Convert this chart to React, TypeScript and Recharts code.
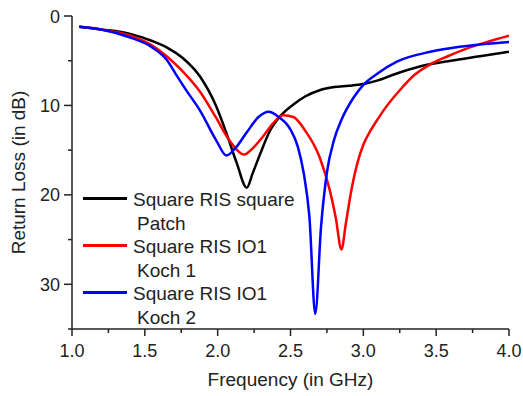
import { Legend, Line, LineChart, XAxis, YAxis } from "recharts";

// Return loss (dB, drawn downward) vs frequency (GHz)
const patchFreq = [1.05, 1.2, 1.4, 1.55, 1.65, 1.76, 1.88, 1.99, 2.06, 2.13, 2.2, 2.24, 2.29, 2.36, 2.43, 2.52, 2.6, 2.7, 2.8, 2.9, 3.0, 3.1, 3.2, 3.4, 3.6, 3.8, 4.0];
const patchLoss = [1.2, 1.5, 2.0, 2.8, 3.5, 4.7, 6.8, 10.1, 13.1, 16.4, 19.2, 17.6, 15.5, 12.8, 11.2, 9.9, 9.0, 8.3, 7.95, 7.8, 7.6, 7.2, 6.6, 5.6, 5.0, 4.5, 4.0];

const koch1Freq = [1.05, 1.2, 1.4, 1.54, 1.65, 1.76, 1.88, 1.99, 2.08, 2.14, 2.18, 2.24, 2.31, 2.38, 2.45, 2.52, 2.6, 2.7, 2.77, 2.81, 2.85, 2.88, 2.92, 2.96, 3.0, 3.05, 3.1, 3.15, 3.25, 3.35, 3.46, 3.58, 3.7, 3.85, 4.0];
const koch1Loss = [1.2, 1.5, 2.2, 3.2, 4.5, 6.2, 8.5, 11.4, 13.9, 15.1, 15.5, 14.8, 13.5, 12.0, 11.1, 11.3, 12.8, 15.8, 19.5, 22.5, 26.1, 23.2, 19.3, 16.4, 14.4, 12.8, 11.5, 10.3, 8.3, 6.6, 5.4, 4.5, 3.7, 2.9, 2.2];

const koch2Freq = [1.05, 1.2, 1.4, 1.54, 1.65, 1.72, 1.78, 1.88, 1.99, 2.06, 2.12, 2.2, 2.28, 2.35, 2.42, 2.5, 2.55, 2.59, 2.63, 2.67, 2.71, 2.75, 2.8, 2.85, 2.93, 3.0, 3.1, 3.23, 3.46, 3.68, 4.0];
const koch2Loss = [1.2, 1.5, 2.4, 3.4, 4.9, 6.7, 8.2, 10.6, 13.9, 15.6, 14.8, 13.0, 11.3, 10.7, 11.3, 12.7, 14.6, 17.5, 22.5, 33.3, 23.5, 17.5, 13.8, 11.6, 9.2, 7.7, 6.4, 5.1, 4.0, 3.4, 2.9];

const xTicks = [1, 1.25, 1.5, 1.75, 2, 2.25, 2.5, 2.75, 3, 3.25, 3.5, 3.75, 4];
const yTicks = [0, 5, 10, 15, 20, 25, 30, 35];

const seriesNames = ["Square RIS square\nPatch", "Square RIS IO1\nKoch 1", "Square RIS IO1\nKoch 2"];

const zip = (freq: number[], loss: number[]) => freq.map((f, i) => ({ f, loss: loss[i] }));

const FONT = "'Liberation Sans', Arial, sans-serif";
const INK = "#222";

const XTick = ({ x, y, payload }: any) => {
  const major = Math.abs((payload.value * 2) % 1) < 1e-6;
  return (
    <g>
      <line x1={x} x2={x} y1={y} y2={y + (major ? 7 : 4)} stroke={INK} strokeWidth={1.5} />
      {major && (
        <text x={x} y={y + 28} textAnchor="middle" fontSize={18} fill={INK} fontFamily={FONT}>
          {payload.value.toFixed(1)}
        </text>
      )}
    </g>
  );
};

const YTick = ({ x, y, payload }: any) => {
  const major = payload.value % 10 === 0;
  return (
    <g>
      <line x1={x} x2={x - (major ? 8 : 4)} y1={y} y2={y} stroke={INK} strokeWidth={1.5} />
      {major && (
        <text x={x - 12} y={y + 6.5} textAnchor="end" fontSize={18} fill={INK} fontFamily={FONT}>
          {payload.value}
        </text>
      )}
    </g>
  );
};

// legend keeps the order the series were drawn in
const renderLegend = ({ payload }: any) => {
  const items = [...(payload || [])].sort(
    (a: any, b: any) => seriesNames.indexOf(a.value) - seriesNames.indexOf(b.value)
  );
  return (
    <div style={{ fontFamily: FONT, fontSize: 19, color: INK, lineHeight: "23.5px" }}>
      {items.map((entry: any) => {
        const [first, second] = String(entry.value).split("\n");
        return (
          <div key={entry.value} style={{ display: "flex", alignItems: "flex-start" }}>
            <div style={{ width: 44, height: 3, marginTop: 9, background: entry.color, flexShrink: 0 }} />
            <div style={{ marginLeft: 6, whiteSpace: "nowrap" }}>
              <div>{first}</div>
              <div style={{ paddingLeft: 4 }}>{second}</div>
            </div>
          </div>
        );
      })}
    </div>
  );
};

export default function App() {
  return (
    <div style={{ position: "absolute", left: 0, top: 0, background: "#fff" }}>
      <LineChart width={523} height={396} margin={{ top: 16, right: 14, bottom: 0, left: 0 }}>
        <XAxis
          type="number"
          dataKey="f"
          domain={[1, 4]}
          ticks={xTicks}
          tick={<XTick />}
          tickSize={0}
          tickMargin={0}
          tickLine={false}
          height={67}
          stroke={INK}
          strokeWidth={1.5}
          allowDataOverflow
          label={{
            content: ({ viewBox }: any) => (
              <text x={viewBox.x + viewBox.width / 2} y={viewBox.y + 57} textAnchor="middle" fontSize={19} fill={INK} fontFamily={FONT}>
                Frequency (in GHz)
              </text>
            ),
          }}
        />
        <YAxis
          type="number"
          reversed
          domain={[0, 35]}
          ticks={yTicks}
          tick={<YTick />}
          tickSize={0}
          tickMargin={0}
          tickLine={false}
          width={72}
          stroke={INK}
          strokeWidth={1.5}
          allowDataOverflow
          label={{
            content: ({ viewBox }: any) => {
              const cy = viewBox.y + viewBox.height / 2;
              return (
                <text x={25} y={cy} transform={`rotate(-90, 25, ${cy})`} textAnchor="middle" fontSize={19} fill={INK} fontFamily={FONT}>
                  Return Loss (in dB)
                </text>
              );
            },
          }}
        />
        <Legend
          layout="vertical"
          align="center"
          verticalAlign="middle"
          content={renderLegend}
          wrapperStyle={{ left: 83, top: 188, width: 260, height: "auto" }}
        />
        <Line data={zip(patchFreq, patchLoss)} dataKey="loss" name={seriesNames[0]} type="monotone" stroke="#000000" strokeWidth={2.5} dot={false} isAnimationActive={false} />
        <Line data={zip(koch1Freq, koch1Loss)} dataKey="loss" name={seriesNames[1]} type="monotone" stroke="#ff0000" strokeWidth={2.5} dot={false} isAnimationActive={false} />
        <Line data={zip(koch2Freq, koch2Loss)} dataKey="loss" name={seriesNames[2]} type="monotone" stroke="#0000ff" strokeWidth={2.5} dot={false} isAnimationActive={false} />
      </LineChart>
    </div>
  );
}
